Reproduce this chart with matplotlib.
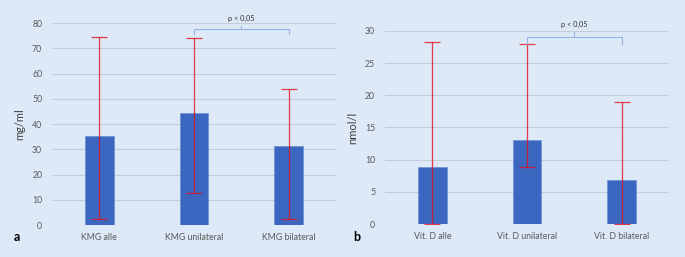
import numpy as np
import matplotlib.pyplot as plt

# panel a: KMG
kmg_labels = ["KMG alle", "KMG unilateral", "KMG bilateral"]
kmg_mean = [35.3, 44.2, 31.2]
kmg_low = [2.3, 12.5, 2.2]
kmg_high = [74.3, 74.0, 53.7]

# panel b: Vitamin D
vitd_labels = ["Vit. D alle", "Vit. D unilateral", "Vit. D bilateral"]
vitd_mean = [8.8, 13.1, 6.8]
vitd_low = [0.0, 8.9, 0.0]
vitd_high = [28.3, 28.0, 19.0]

bg = "#dde9f7"
bar_col = "#3b67c0"
err_col = "#e4101e"
grid_col = "#c3ccd8"
txt_col = "#595959"
brk_col = "#95b3e2"

plt.rcParams["font.family"] = ["Lato", "DejaVu Sans"]

fig = plt.figure(figsize=(6.85, 2.57), dpi=100, facecolor=bg)


def panel(rect, labels, mean, low, high, ymax, step, ylabel, brk):
    ax = fig.add_axes(rect, facecolor=bg)
    x = np.arange(len(labels))
    mean = np.array(mean)
    yerr = [mean - np.array(low), np.array(high) - mean]
    ax.bar(x, mean, width=0.3, color=bar_col, edgecolor="#6f93d6",
           linewidth=0.6, zorder=2)
    ax.errorbar(x, mean, yerr=yerr, fmt="none", ecolor=err_col, alpha=0.8,
                elinewidth=0.9, capsize=5.5, capthick=0.9, zorder=3)
    ax.set_xlim(-0.5, len(labels) - 0.5)
    ax.set_ylim(0, ymax)
    ax.set_yticks(np.arange(0, ymax + 0.1, step))
    ax.set_xticks(x)
    ax.set_xticklabels(labels)
    ax.tick_params(length=0, labelsize=6.3, colors=txt_col, pad=6)
    ax.tick_params(axis="y", pad=7)
    ax.grid(axis="y", color=grid_col, linewidth=0.8, zorder=0)
    ax.set_axisbelow(True)
    for s in ax.spines.values():
        s.set_visible(False)
    ax.set_ylabel(ylabel, fontsize=8, color="#404040", labelpad=5)
    # significance bracket
    y_end, y_line, y_tip, y_txt = brk
    xm = (x[1] + x[2]) / 2
    ax.plot([x[1], x[1], x[2], x[2]], [y_end, y_line, y_line, y_end],
            color=brk_col, lw=0.8, clip_on=False, zorder=4)
    ax.plot([xm, xm], [y_line, y_tip], color=brk_col, lw=0.8,
            clip_on=False, zorder=4)
    ax.text(xm, y_txt, "p < 0,05", fontsize=5.3, color="#333333",
            ha="center", va="center", clip_on=False)
    return ax


panel([0.0759, 0.1245, 0.4146, 0.786], kmg_labels, kmg_mean, kmg_low,
      kmg_high, 80, 10, "mg/ml", (75.6, 77.6, 78.8, 81.8))
panel([0.562, 0.1284, 0.4146, 0.751], vitd_labels, vitd_mean, vitd_low,
      vitd_high, 30, 5, "nmol/l", (28.0, 29.0, 29.9, 31.0))

fig.text(17 / 685, 1 - 237 / 257, "a", fontsize=9, fontweight="bold",
         ha="center", va="center")
fig.text(357 / 685, 1 - 237 / 257, "b", fontsize=9, fontweight="bold",
         ha="center", va="center")

fig.savefig("out.png", dpi=100, facecolor=bg)
